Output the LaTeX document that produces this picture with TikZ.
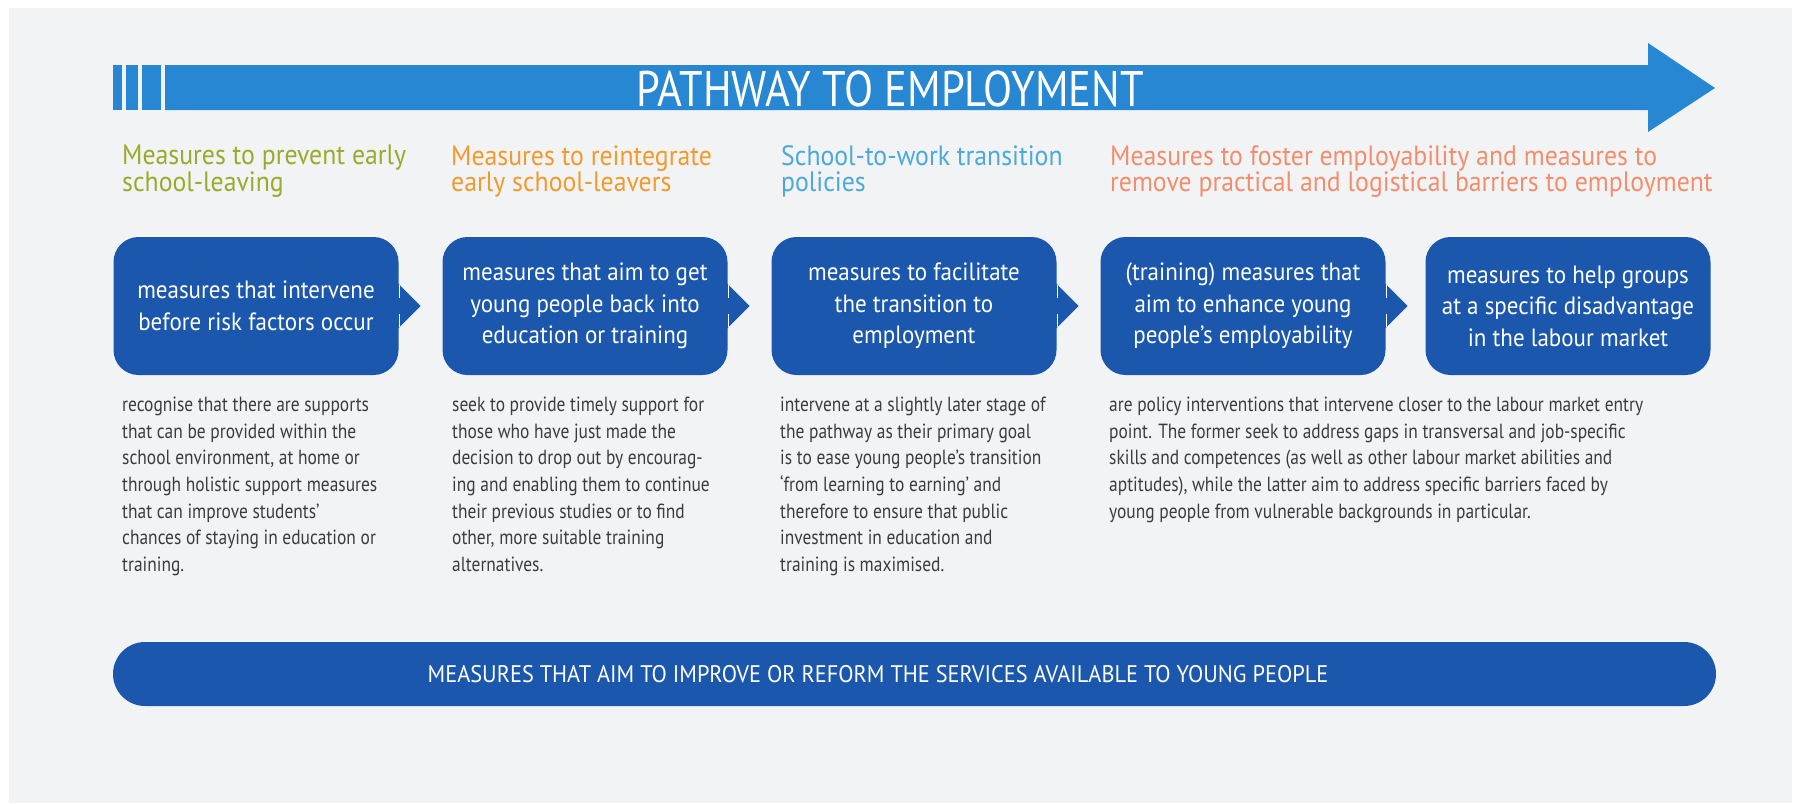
\documentclass[tikz,border=0pt]{standalone}
\usepackage{fontspec}
\setmainfont{PT Sans}[FakeStretch=0.85]
\newfontfamily\hfont{PT Sans}[FakeStretch=0.92]
\newfontfamily\bfont{PT Sans}[FakeStretch=0.93]
\usetikzlibrary{calc}
\definecolor{bgcol}{HTML}{F2F3F5}
\definecolor{arrowblue}{HTML}{2887D3}
\definecolor{boxblue}{HTML}{1B58AD}
\definecolor{olive}{HTML}{9BAA2B}
\definecolor{orangeh}{HTML}{F39A2C}
\definecolor{lightblueh}{HTML}{4BAAD9}
\definecolor{salmonh}{HTML}{F28E6B}
\definecolor{textgray}{HTML}{3C3C3C}
\tikzset{
  heading/.style={anchor=north west, inner sep=0pt, align=left, font=\hfont\fontsize{28}{26.5}\selectfont},
  bluebox/.style={fill=boxblue, rounded corners=25pt, minimum width=285pt, minimum height=138pt, inner sep=0pt, text=white, align=center, font=\hfont\fontsize{25}{31.5}\selectfont},
  desc/.style={anchor=north west, inner sep=0pt, align=left, text=textgray, font=\fontsize{20.5}{26.6}\selectfont},
  chev/.style={fill=boxblue},
  chevline/.style={draw=white, line width=1.2pt},
}
\begin{document}
\begin{tikzpicture}[x=1pt,y=-1pt]
\useasboundingbox (0,0) rectangle (1804,803);
\fill[white] (0,0) rectangle (1804,803);
\fill[bgcol] (9,8) rectangle (1792,803);
% pathway arrow
\fill[arrowblue] (113,65) rectangle (122,110);
\fill[arrowblue] (126,65) rectangle (138,110);
\fill[arrowblue] (142,65) rectangle (161,110);
\fill[arrowblue] (165,65) -- (1648,65) -- (1648,43) -- (1715,88) -- (1648,132) -- (1648,110) -- (165,110) -- cycle;
\node[text=white, inner sep=0pt, font=\fontsize{50}{50}\selectfont] (title) at (890,89) {PATHWAY TO EMPLOYMENT};
% headings
\node[heading, text=olive] (h1) at (122,145) {Measures to prevent early\\school-leaving};
\node[heading, text=orangeh] (h2) at (451,145) {Measures to reintegrate\\early school-leavers};
\node[heading, text=lightblueh] (h3) at (781,145) {School-to-work transition\\policies};
\node[heading, text=salmonh] (h4) at (1110,145) {Measures to foster employability and measures to\\remove practical and logistical barriers to employment};
% boxes
\node[bluebox] (b1) at (256,306) {measures that intervene\\before risk factors occur};
\node[bluebox] (b2) at (585,306) {measures that aim to get\\young people back into\\education or training};
\node[bluebox] (b3) at (914,306) {measures to facilitate\\the transition to\\employment};
\node[bluebox] (b4) at (1243,306) {(training) measures that\\aim to enhance young\\people’s employability};
\node[bluebox] (b5) at (1568,306) {measures to help groups\\at a specific disadvantage\\in the labour market};
% chevrons
\foreach \n in {b1,b2,b3,b4}{
  \fill[chev] ($(\n.east)+(-1,-23)$) -- ($(\n.east)+(22,0)$) -- ($(\n.east)+(-1,23)$) -- cycle;
  \draw[chevline] ($(\n.east)+(1,-21)$) -- ($(\n.east)+(1,-8)$);
  \draw[chevline] ($(\n.east)+(1,8)$) -- ($(\n.east)+(1,21)$);
}
% descriptions
\node[desc] (d1) at (122,397) {recognise that there are supports\\that can be provided within the\\school environment, at home or\\through holistic support measures\\that can improve students’\\chances of staying in education or\\training.};
\node[desc] (d2) at (452,397) {seek to provide timely support for\\those who have just made the\\decision to drop out by encourag-\\ing and enabling them to continue\\their previous studies or to find\\other, more suitable training\\alternatives.};
\node[desc] (d3) at (780,397) {intervene at a slightly later stage of\\the pathway as their primary goal\\is to ease young people’s transition\\‘from learning to earning’ and\\therefore to ensure that public\\investment in education and\\training is maximised.};
\node[desc] (d4) at (1109,397) {are policy interventions that intervene closer to the labour market entry\\point. The former seek to address gaps in transversal and job-specific\\skills and competences (as well as other labour market abilities and\\aptitudes), while the latter aim to address specific barriers faced by\\young people from vulnerable backgrounds in particular.};
% bottom bar
\node[fill=boxblue, rounded corners=32pt, minimum width=1603pt, minimum height=64pt, inner sep=0pt] (bar) at (914.5,674) {};
\node[text=white, inner sep=0pt, font=\bfont\fontsize{24}{24}\selectfont] (bartext) at (878,674) {MEASURES THAT AIM TO IMPROVE OR REFORM THE SERVICES AVAILABLE TO YOUNG PEOPLE};
\end{tikzpicture}
\end{document}
